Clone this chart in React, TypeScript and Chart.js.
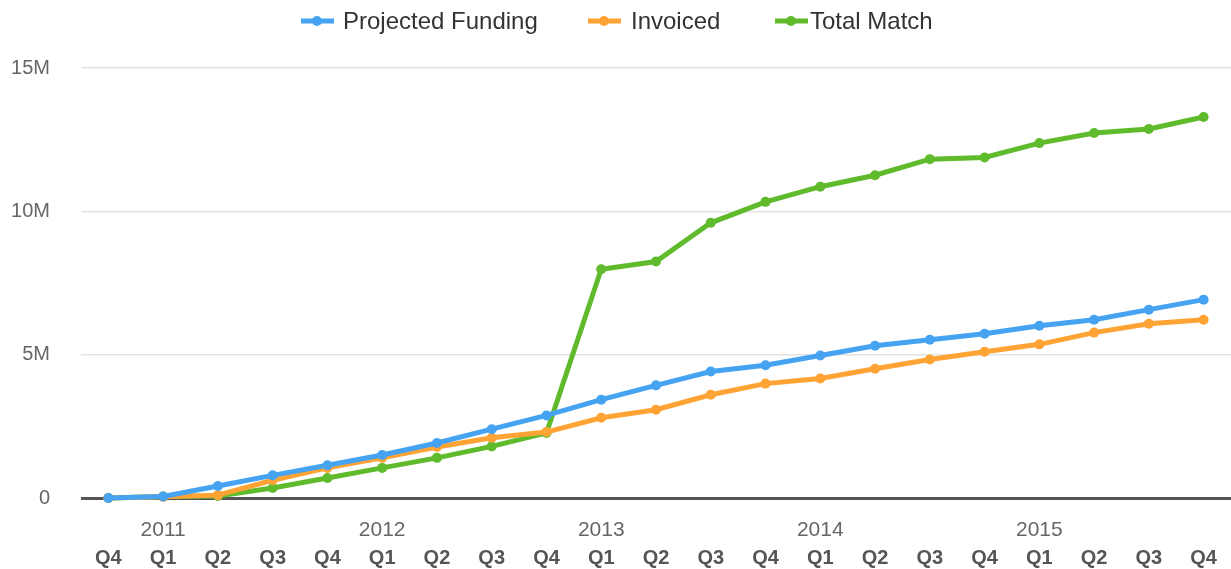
import React, { useEffect, useRef } from "react";
import { Chart, registerables } from "chart.js";

Chart.register(...registerables);

const quarters = ["Q4", "Q1", "Q2", "Q3", "Q4", "Q1", "Q2", "Q3", "Q4", "Q1", "Q2", "Q3", "Q4", "Q1", "Q2", "Q3", "Q4", "Q1", "Q2", "Q3", "Q4"];
const years = ["", "2011", "", "", "", "2012", "", "", "", "2013", "", "", "", "2014", "", "", "", "2015", "", "", ""];

const projectedFunding = [0, 0.05, 0.42, 0.79, 1.14, 1.5, 1.92, 2.4, 2.88, 3.43, 3.93, 4.41, 4.63, 4.97, 5.31, 5.52, 5.73, 6.01, 6.22, 6.57, 6.92];
const invoiced = [0, 0.04, 0.1, 0.62, 1.05, 1.4, 1.78, 2.1, 2.3, 2.8, 3.08, 3.6, 3.99, 4.17, 4.51, 4.83, 5.1, 5.36, 5.77, 6.08, 6.22];
const totalMatch = [0, 0.05, 0.07, 0.35, 0.7, 1.05, 1.4, 1.8, 2.27, 7.98, 8.25, 9.6, 10.33, 10.86, 11.26, 11.82, 11.88, 12.38, 12.73, 12.87, 13.29];

const seriesNames = ["Projected Funding", "Invoiced", "Total Match"];
const seriesColors = ["#45a3f2", "#ffa434", "#60bb2c"];

const FONT = "'Liberation Sans', Arial, sans-serif";

const legendPlugin = {
  id: "customLegend",
  afterDraw(chart: any) {
    const ctx = chart.ctx as CanvasRenderingContext2D;
    const items = [
      { x: 301, textX: 343 },
      { x: 588, textX: 631 },
      { x: 775, textX: 810 },
    ];
    ctx.save();
    ctx.font = `24px ${FONT}`;
    ctx.textBaseline = "middle";
    ctx.textAlign = "left";
    items.forEach((it, i) => {
      const y = 21;
      ctx.strokeStyle = seriesColors[i];
      ctx.lineWidth = 5;
      ctx.beginPath();
      ctx.moveTo(it.x, y);
      ctx.lineTo(it.x + 33, y);
      ctx.stroke();
      ctx.fillStyle = seriesColors[i];
      ctx.beginPath();
      ctx.arc(it.x + 16, y, 5, 0, Math.PI * 2);
      ctx.fill();
      ctx.fillStyle = "#333";
      ctx.fillText(seriesNames[i], it.textX, y + 1);
    });
    ctx.restore();
  },
};

export default function App() {
  const ref = useRef<HTMLCanvasElement>(null);
  useEffect(() => {
    if (!ref.current) return;
    const all = [projectedFunding, invoiced, totalMatch];
    const chart = new Chart(ref.current, {
      type: "line",
      data: {
        labels: quarters,
        datasets: all.map((d, i) => ({
          label: seriesNames[i],
          data: d.map((v) => v * 1e6),
          borderColor: seriesColors[i],
          backgroundColor: seriesColors[i],
          borderWidth: 5,
          pointRadius: 5,
          pointBorderWidth: 0,
          tension: 0,
          xAxisID: "x",
          clip: false as any,
        })),
      },
      options: {
        animation: false,
        responsive: false,
        maintainAspectRatio: false,
        layout: { autoPadding: false, padding: { top: 68, right: 0, left: 0, bottom: 0 } },
        plugins: { legend: { display: false }, tooltip: { enabled: false } },
        scales: {
          xYear: {
            type: "category",
            labels: years,
            position: "bottom",
            offset: true,
            weight: 0,
            grid: { display: false, drawTicks: false },
            border: { display: false },
            ticks: { autoSkip: false, maxRotation: 0, padding: 20, color: "#666", font: { family: FONT, size: 21 } },
            afterFit(s: any) { s.height = 40; },
          },
          x: {
            type: "category",
            position: "bottom",
            offset: true,
            weight: 1,
            grid: { display: false, drawTicks: false },
            border: { display: false },
            ticks: { autoSkip: false, maxRotation: 0, padding: 8, color: "#555", font: { family: FONT, size: 20, weight: "bold" } },
            afterFit(s: any) { s.height = 31; },
          },
          y: {
            type: "linear",
            min: 0,
            max: 15e6,
            border: { display: false },
            grid: {
              drawTicks: false,
              color: (c: any) => (c.tick && c.tick.value === 0 ? "#555" : "#e3e3e3"),
              lineWidth: (c: any) => (c.tick && c.tick.value === 0 ? 3 : 1.5),
            },
            ticks: {
              stepSize: 5e6,
              padding: 31,
              color: "#666",
              font: { family: FONT, size: 20 },
              callback: (v: any) => (v === 0 ? "0" : v / 1e6 + "M"),
            },
            afterFit(s: any) { s.width = 81; },
          },
        },
      },
      plugins: [legendPlugin],
    } as any);
    return () => chart.destroy();
  }, []);
  return (
    <div style={{ position: "fixed", left: 0, top: 0, width: 1231, height: 569, background: "#fff" }}>
      <canvas ref={ref} width={1231} height={569} style={{ display: "block" }} />
    </div>
  );
}
